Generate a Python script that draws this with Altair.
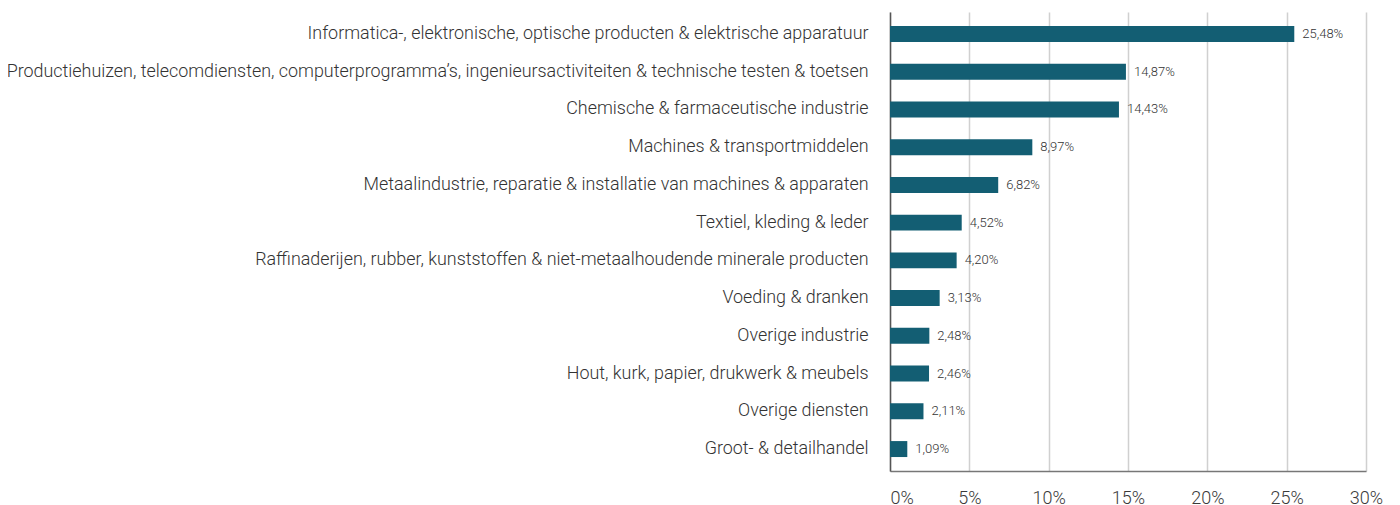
import altair as alt
import pandas as pd

categories = [
    "Informatica-, elektronische, optische producten & elektrische apparatuur",
    "Productiehuizen, telecomdiensten, computerprogramma’s, ingenieursactiviteiten & technische testen & toetsen",
    "Chemische & farmaceutische industrie",
    "Machines & transportmiddelen",
    "Metaalindustrie, reparatie & installatie van machines & apparaten",
    "Textiel, kleding & leder",
    "Raffinaderijen, rubber, kunststoffen & niet-metaalhoudende minerale producten",
    "Voeding & dranken",
    "Overige industrie",
    "Hout, kurk, papier, drukwerk & meubels",
    "Overige diensten",
    "Groot- & detailhandel",
]
values = [25.48, 14.87, 14.43, 8.97, 6.82, 4.52, 4.20, 3.13, 2.48, 2.46, 2.11, 1.09]
x_ticks = [0, 5, 10, 15, 20, 25, 30]

df = pd.DataFrame({"cat": categories, "val": values})

FONT = "Roboto"
BAR = "#135e73"

y_enc = alt.Y("cat:N", sort=categories, title=None,
              scale=alt.Scale(paddingInner=0.577, paddingOuter=0.37),
              axis=alt.Axis(labelFont=FONT, labelFontSize=17.9, labelFontWeight=300,
                            labelColor="#333333",
                            labelPadding=22, ticks=False, domain=True,
                            domainColor="#555555", domainWidth=1.5, labelLimit=1000))
x_enc = alt.X("val:Q", title=None,
              scale=alt.Scale(domain=[0, 30], nice=False),
              axis=alt.Axis(values=x_ticks, labelExpr="datum.value + '%'",
                            labelFont=FONT, labelFontSize=18, labelFontWeight=300,
                            labelColor="#3a3a3a",
                            labelFlush=False,
                            labelAlign=alt.expr("datum.value == 0 ? 'left' : 'center'"),
                            labelPadding=18, ticks=False, grid=True,
                            gridColor="#d0d0d0", gridWidth=1.5,
                            domainColor="#777777", domainWidth=1.5))

base = alt.Chart(df).encode(y=y_enc, x=x_enc)
bars = base.mark_bar(color=BAR)
labels = base.transform_calculate(
    lab="replace(format(datum.val, '.2f'), '.', ',') + '%'"
).mark_text(align="left", dx=8, font=FONT, fontSize=13, fontWeight=300,
            color="#333333").encode(text="lab:N")

chart = (bars + labels).properties(
    width=476, height=459,
    autosize=alt.AutoSizeParams(type="none"),
    padding={"left": 882, "top": 4, "right": 20, "bottom": 40},
).configure_view(stroke=None)

chart.save("out.html", embed_options={"renderer": "svg", "actions": False})
